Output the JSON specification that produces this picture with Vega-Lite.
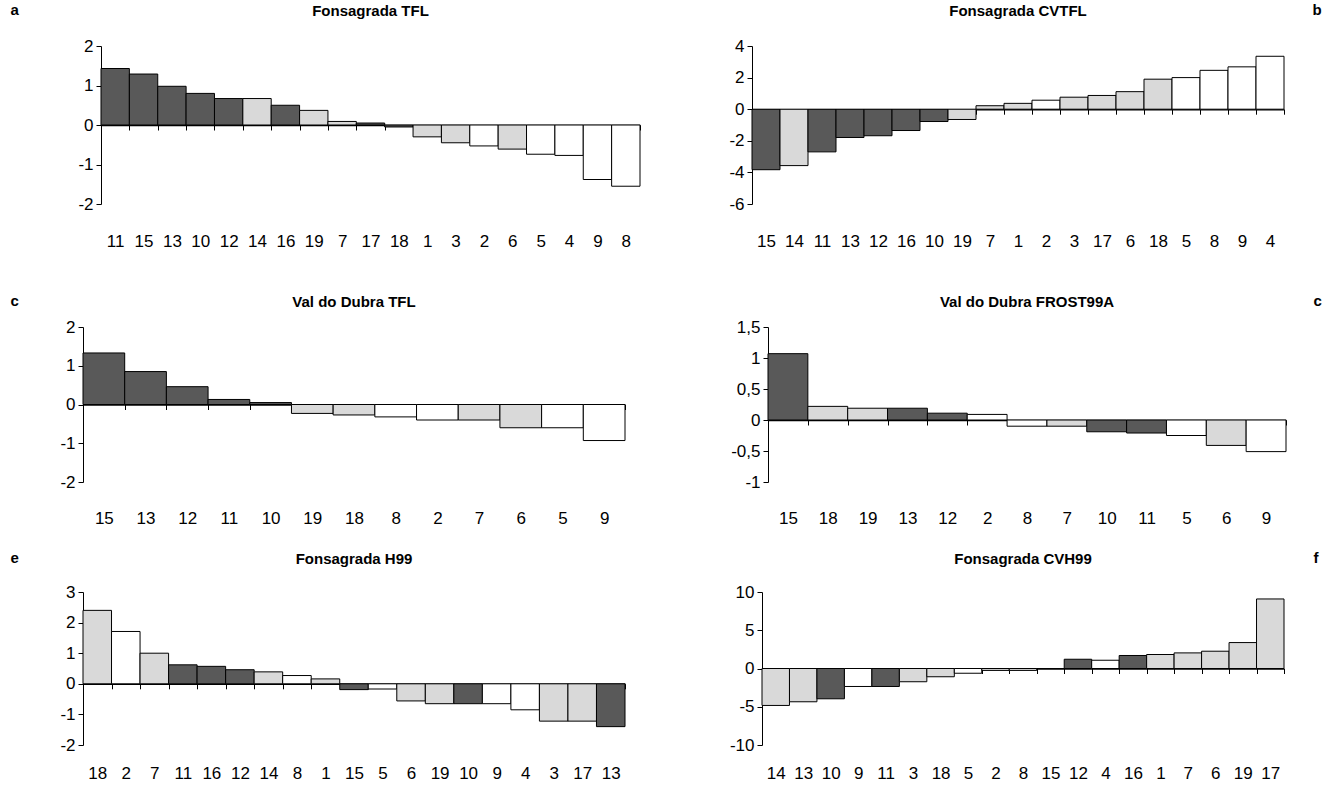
{
  "$schema": "https://vega.github.io/schema/vega-lite/v6.json",
  "padding": {"left": 10, "top": 2, "right": 0, "bottom": 0},
  "background": "white",
  "config": {
    "view": {"stroke": null},
    "font": "Liberation Sans",
    "title": {"fontSize": 15, "fontWeight": "bold", "frame": "group", "anchor": "middle", "offset": -17, "baseline": "alphabetic", "color": "black"},
    "axisX": {"domainColor": "black", "domainWidth": 1.5, "tickColor": "black", "tickSize": 5, "tickBand": "extent", "labelAngle": 0, "labelFontSize": 17, "labelColor": "black", "labelOverlap": false, "zindex": 1, "title": null},
    "axisY": {"domainColor": "black", "tickColor": "black", "tickSize": 5, "labelFontSize": 17, "labelColor": "black", "labelPadding": 3, "grid": false, "titleAngle": 0, "titleFontSize": 15, "titleFontWeight": "bold", "titleAlign": "left", "titleBaseline": "alphabetic", "titleColor": "black"},
    "bar": {"stroke": "black", "strokeWidth": 1}
  },
  "spacing": 44,
  "vconcat": [
    {
      "hconcat": [
        {
          "title": {"text": "Fonsagrada TFL", "dx": 9},
          "width": 557, "height": 158,
          "data": {"values": [
            {"id": "11", "v": 1.43, "g": "d"}, {"id": "15", "v": 1.29, "g": "d"}, {"id": "13", "v": 0.98, "g": "d"},
            {"id": "10", "v": 0.80, "g": "d"}, {"id": "12", "v": 0.67, "g": "d"}, {"id": "14", "v": 0.67, "g": "l"},
            {"id": "16", "v": 0.50, "g": "d"}, {"id": "19", "v": 0.37, "g": "l"}, {"id": "7", "v": 0.09, "g": "l"},
            {"id": "17", "v": 0.05, "g": "d"}, {"id": "18", "v": -0.05, "g": "d"}, {"id": "1", "v": -0.30, "g": "l"},
            {"id": "3", "v": -0.45, "g": "l"}, {"id": "2", "v": -0.53, "g": "w"}, {"id": "6", "v": -0.61, "g": "l"},
            {"id": "5", "v": -0.74, "g": "w"}, {"id": "4", "v": -0.77, "g": "w"}, {"id": "9", "v": -1.38, "g": "w"},
            {"id": "8", "v": -1.55, "g": "w"}
          ]},
          "mark": {"type": "bar"},
          "encoding": {
            "x": {"field": "id", "type": "nominal", "sort": null, "scale": {"paddingInner": 0, "paddingOuter": 0, "range": [18, 557]}, "axis": {"offset": -79, "labelPadding": 103}},
            "y": {"field": "v", "type": "quantitative", "scale": {"domain": [-2, 2], "nice": false, "zero": false}, "axis": {"values": [-2, -1, 0, 1, 2], "labelExpr": "replace(toString(datum.value),'.',',')", "offset": -18, "title": "a", "titleX": -91, "titleY": -32}},
            "fill": {"field": "g", "type": "nominal", "scale": {"domain": ["d", "l", "w"], "range": ["#595959", "#d9d9d9", "#ffffff"]}, "legend": null}
          }
        },
        {
          "title": "Fonsagrada CVTFL",
          "width": 532, "height": 158,
          "data": {"values": [
            {"id": "15", "v": -3.83, "g": "d"}, {"id": "14", "v": -3.57, "g": "l"}, {"id": "11", "v": -2.70, "g": "d"},
            {"id": "13", "v": -1.79, "g": "d"}, {"id": "12", "v": -1.68, "g": "d"}, {"id": "16", "v": -1.35, "g": "d"},
            {"id": "10", "v": -0.78, "g": "d"}, {"id": "19", "v": -0.65, "g": "l"}, {"id": "7", "v": 0.22, "g": "l"},
            {"id": "1", "v": 0.37, "g": "l"}, {"id": "2", "v": 0.57, "g": "w"}, {"id": "3", "v": 0.76, "g": "l"},
            {"id": "17", "v": 0.87, "g": "l"}, {"id": "6", "v": 1.11, "g": "l"}, {"id": "18", "v": 1.90, "g": "l"},
            {"id": "5", "v": 2.00, "g": "w"}, {"id": "8", "v": 2.46, "g": "w"}, {"id": "9", "v": 2.68, "g": "w"},
            {"id": "4", "v": 3.35, "g": "w"}
          ]},
          "mark": {"type": "bar"},
          "encoding": {
            "x": {"field": "id", "type": "nominal", "sort": null, "scale": {"paddingInner": 0, "paddingOuter": 0}, "axis": {"offset": -94.8, "labelPadding": 118.8}},
            "y": {"field": "v", "type": "quantitative", "scale": {"domain": [-6, 4], "nice": false, "zero": false}, "axis": {"values": [-6, -4, -2, 0, 2, 4], "labelExpr": "replace(toString(datum.value),'.',',')", "title": "b", "titleX": 560, "titleY": -32}},
            "fill": {"field": "g", "type": "nominal", "scale": {"domain": ["d", "l", "w"], "range": ["#595959", "#d9d9d9", "#ffffff"]}, "legend": null}
          }
        }
      ],
      "spacing": 87
    },
    {
      "spacing": 24,
      "vconcat": [
        {
          "hconcat": [
            {
              "title": "Val do Dubra TFL",
              "width": 542, "height": 155,
              "data": {"values": [
                {"id": "15", "v": 1.33, "g": "d"}, {"id": "13", "v": 0.85, "g": "d"}, {"id": "12", "v": 0.46, "g": "d"},
                {"id": "11", "v": 0.13, "g": "d"}, {"id": "10", "v": 0.05, "g": "d"}, {"id": "19", "v": -0.23, "g": "l"},
                {"id": "18", "v": -0.27, "g": "l"}, {"id": "8", "v": -0.32, "g": "w"}, {"id": "2", "v": -0.40, "g": "w"},
                {"id": "7", "v": -0.40, "g": "l"}, {"id": "6", "v": -0.60, "g": "l"}, {"id": "5", "v": -0.60, "g": "w"},
                {"id": "9", "v": -0.93, "g": "w"}
              ]},
              "mark": {"type": "bar"},
              "encoding": {
                "x": {"field": "id", "type": "nominal", "sort": null, "scale": {"paddingInner": 0, "paddingOuter": 0}, "axis": {"offset": -77.5, "labelPadding": 100.5}},
                "y": {"field": "v", "type": "quantitative", "scale": {"domain": [-2, 2], "nice": false, "zero": false}, "axis": {"values": [-2, -1, 0, 1, 2], "labelExpr": "replace(toString(datum.value),'.',',')", "title": "c", "titleX": -73, "titleY": -22}},
                "fill": {"field": "g", "type": "nominal", "scale": {"domain": ["d", "l", "w"], "range": ["#595959", "#d9d9d9", "#ffffff"]}, "legend": null}
              }
            },
            {
              "title": "Val do Dubra FROST99A",
              "width": 518, "height": 155,
              "data": {"values": [
                {"id": "15", "v": 1.07, "g": "d"}, {"id": "18", "v": 0.22, "g": "l"}, {"id": "19", "v": 0.19, "g": "l"},
                {"id": "13", "v": 0.19, "g": "d"}, {"id": "12", "v": 0.11, "g": "d"}, {"id": "2", "v": 0.09, "g": "w"},
                {"id": "8", "v": -0.10, "g": "w"}, {"id": "7", "v": -0.10, "g": "l"}, {"id": "10", "v": -0.19, "g": "d"},
                {"id": "11", "v": -0.21, "g": "d"}, {"id": "5", "v": -0.25, "g": "w"}, {"id": "6", "v": -0.41, "g": "l"},
                {"id": "9", "v": -0.51, "g": "w"}
              ]},
              "mark": {"type": "bar"},
              "encoding": {
                "x": {"field": "id", "type": "nominal", "sort": null, "scale": {"paddingInner": 0, "paddingOuter": 0}, "axis": {"offset": -62, "labelPadding": 85}},
                "y": {"field": "v", "type": "quantitative", "scale": {"domain": [-1, 1.5], "nice": false, "zero": false}, "axis": {"values": [-1, -0.5, 0, 0.5, 1, 1.5], "labelExpr": "replace(toString(datum.value),'.',',')", "title": "c", "titleX": 545, "titleY": -22}},
                "fill": {"field": "g", "type": "nominal", "scale": {"domain": ["d", "l", "w"], "range": ["#595959", "#d9d9d9", "#ffffff"]}, "legend": null}
              }
            }
          ],
          "spacing": 104
        },
        {
          "hconcat": [
            {
              "title": "Fonsagrada H99",
              "width": 542, "height": 153,
              "data": {"values": [
                {"id": "18", "v": 2.40, "g": "l"}, {"id": "2", "v": 1.71, "g": "w"}, {"id": "7", "v": 1.00, "g": "l"},
                {"id": "11", "v": 0.62, "g": "d"}, {"id": "16", "v": 0.57, "g": "d"}, {"id": "12", "v": 0.46, "g": "d"},
                {"id": "14", "v": 0.39, "g": "l"}, {"id": "8", "v": 0.27, "g": "w"}, {"id": "1", "v": 0.16, "g": "l"},
                {"id": "15", "v": -0.19, "g": "d"}, {"id": "5", "v": -0.17, "g": "w"}, {"id": "6", "v": -0.56, "g": "l"},
                {"id": "19", "v": -0.65, "g": "l"}, {"id": "10", "v": -0.65, "g": "d"}, {"id": "9", "v": -0.65, "g": "w"},
                {"id": "4", "v": -0.85, "g": "w"}, {"id": "3", "v": -1.22, "g": "l"}, {"id": "17", "v": -1.22, "g": "l"},
                {"id": "13", "v": -1.40, "g": "d"}
              ]},
              "mark": {"type": "bar"},
              "encoding": {
                "x": {"field": "id", "type": "nominal", "sort": null, "scale": {"paddingInner": 0, "paddingOuter": 0}, "axis": {"offset": -61.2, "labelPadding": 76.2}},
                "y": {"field": "v", "type": "quantitative", "scale": {"domain": [-2, 3], "nice": false, "zero": false}, "axis": {"values": [-2, -1, 0, 1, 2, 3], "labelExpr": "replace(toString(datum.value),'.',',')", "title": "e", "titleX": -73, "titleY": -30}},
                "fill": {"field": "g", "type": "nominal", "scale": {"domain": ["d", "l", "w"], "range": ["#595959", "#d9d9d9", "#ffffff"]}, "legend": null}
              }
            },
            {
              "title": "Fonsagrada CVH99",
              "width": 522, "height": 153,
              "data": {"values": [
                {"id": "14", "v": -4.83, "g": "l"}, {"id": "13", "v": -4.35, "g": "l"}, {"id": "10", "v": -3.96, "g": "d"},
                {"id": "9", "v": -2.35, "g": "w"}, {"id": "11", "v": -2.35, "g": "d"}, {"id": "3", "v": -1.73, "g": "l"},
                {"id": "18", "v": -1.08, "g": "l"}, {"id": "5", "v": -0.62, "g": "w"}, {"id": "2", "v": -0.25, "g": "l"},
                {"id": "8", "v": -0.25, "g": "l"}, {"id": "15", "v": 0, "g": "l"}, {"id": "12", "v": 1.21, "g": "d"},
                {"id": "4", "v": 1.08, "g": "w"}, {"id": "16", "v": 1.70, "g": "d"}, {"id": "1", "v": 1.83, "g": "l"},
                {"id": "7", "v": 2.04, "g": "l"}, {"id": "6", "v": 2.26, "g": "l"}, {"id": "19", "v": 3.39, "g": "l"},
                {"id": "17", "v": 9.09, "g": "l"}
              ]},
              "mark": {"type": "bar"},
              "encoding": {
                "x": {"field": "id", "type": "nominal", "sort": null, "scale": {"paddingInner": 0, "paddingOuter": 0}, "axis": {"offset": -76.5, "labelPadding": 91.5}},
                "y": {"field": "v", "type": "quantitative", "scale": {"domain": [-10, 10], "nice": false, "zero": false}, "axis": {"values": [-10, -5, 0, 5, 10], "labelExpr": "replace(toString(datum.value),'.',',')", "title": "f", "titleX": 551, "titleY": -30}},
                "fill": {"field": "g", "type": "nominal", "scale": {"domain": ["d", "l", "w"], "range": ["#595959", "#d9d9d9", "#ffffff"]}, "legend": null}
              }
            }
          ],
          "spacing": 103
        }
      ]
    }
  ]
}
